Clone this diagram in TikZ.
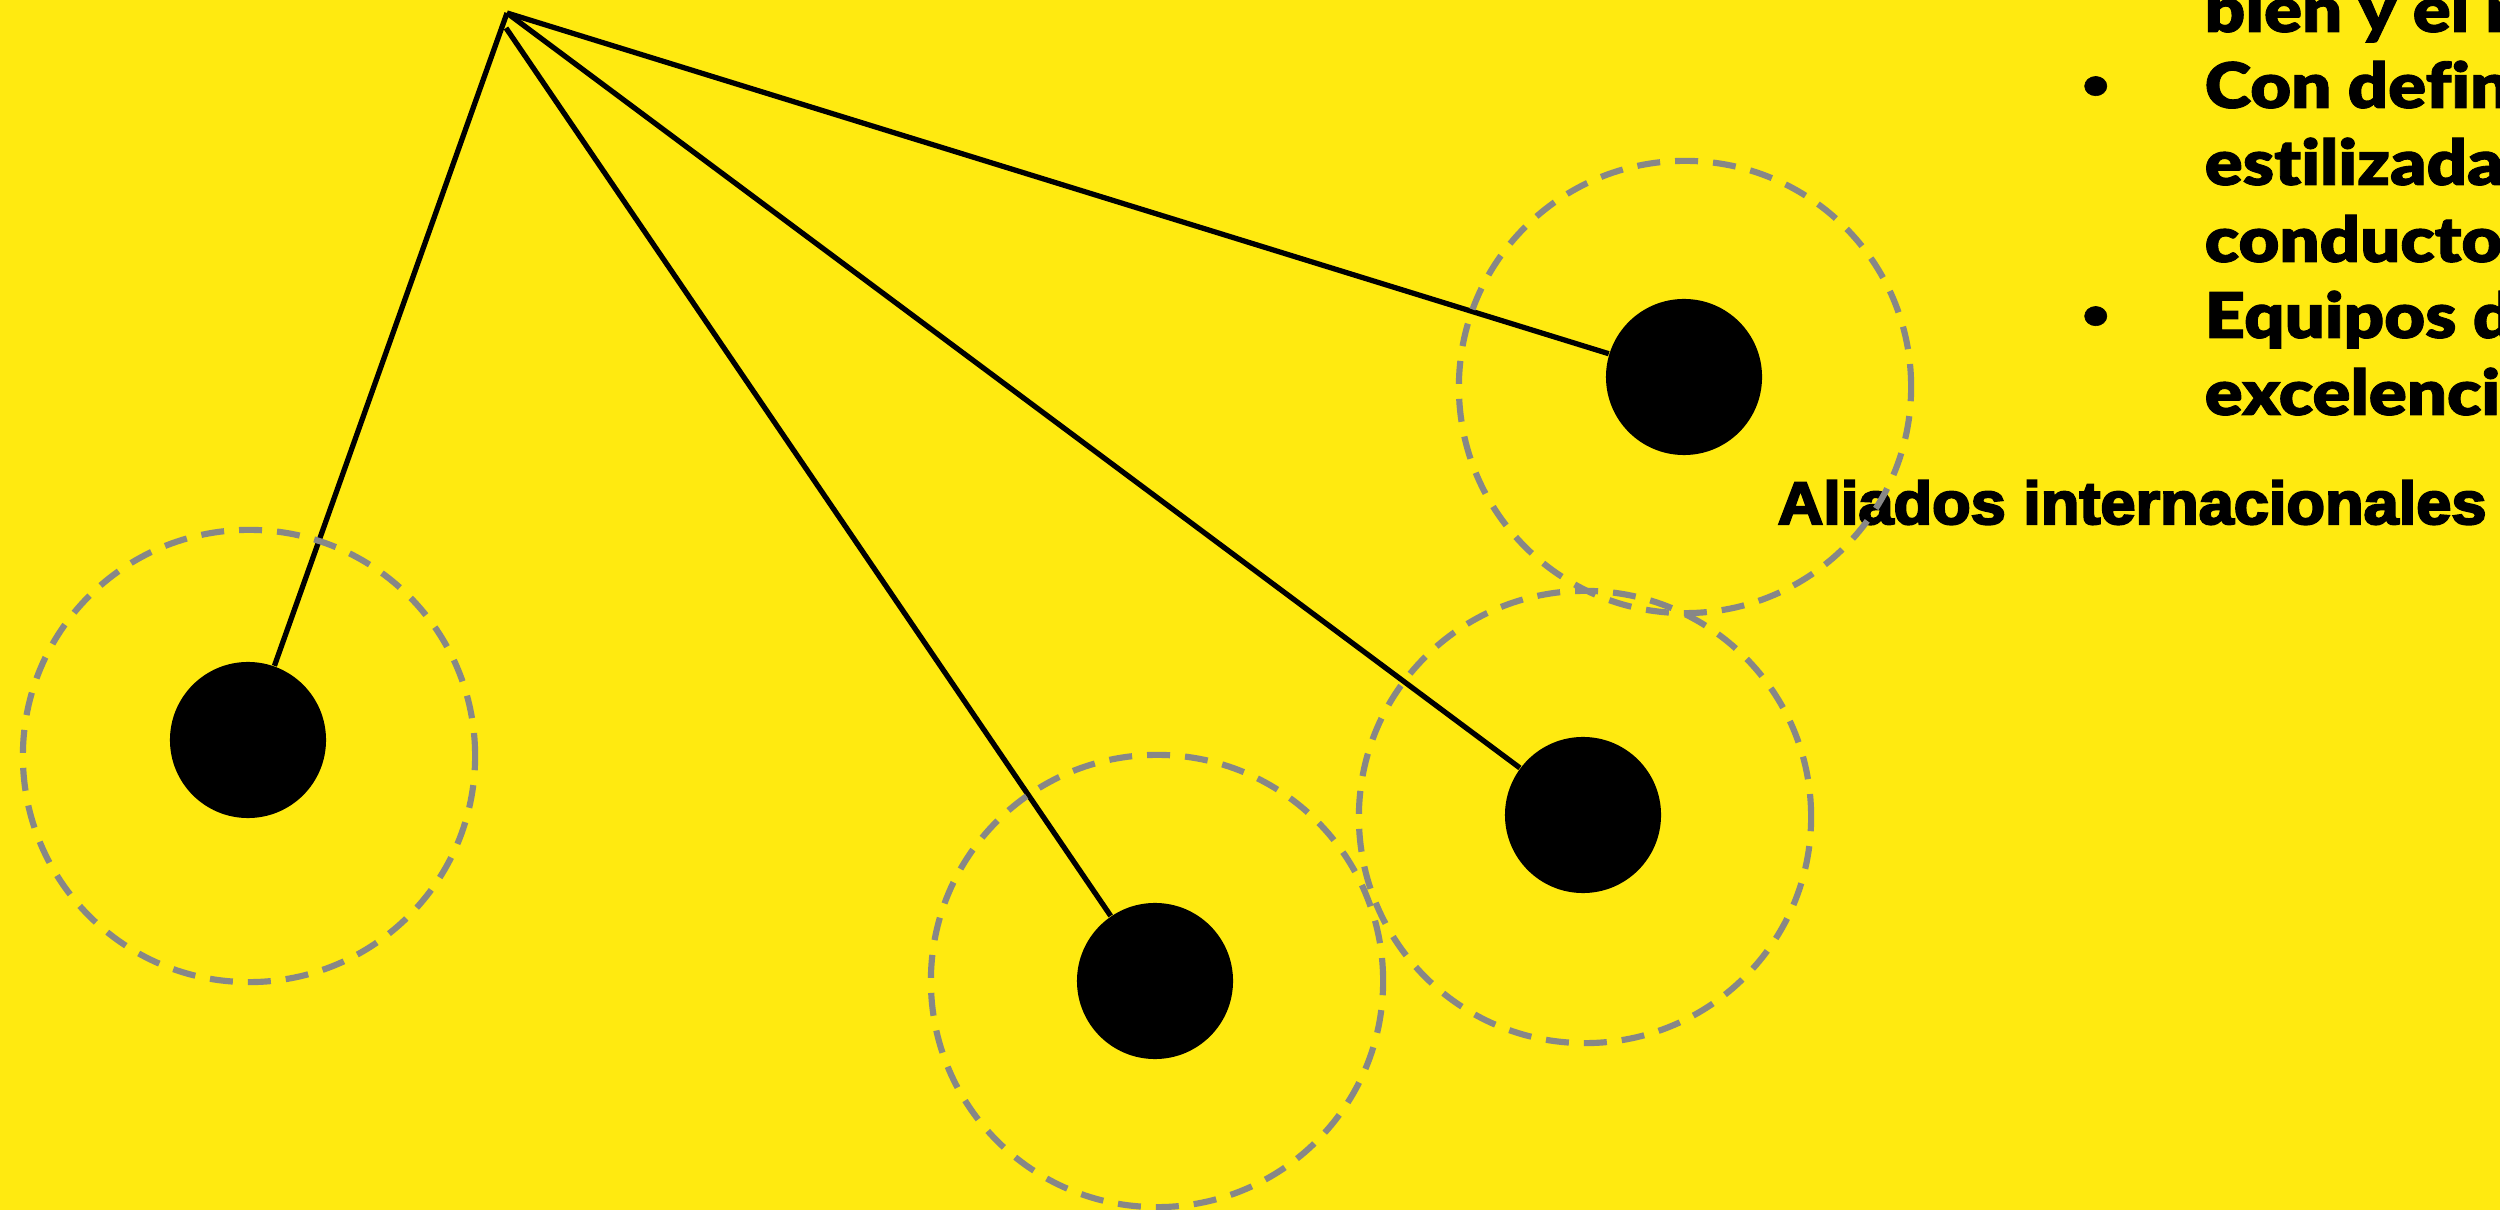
\documentclass[tikz,border=0pt]{standalone}
\usepackage{fontspec}
\newfontfamily\listfont{Lato Black}[FakeStretch=1.12,FakeBold=1.4,Ligatures=NoCommon]
\newfontfamily\titlefont{Liberation Sans}[BoldFeatures={FakeBold=3.5}]
\definecolor{bgyellow}{RGB}{255,234,16}
\definecolor{ringgray}{RGB}{135,135,135}

\begin{document}
\begin{tikzpicture}[x=0.01cm,y=-0.01cm,
		dot/.style={circle,fill=black,inner sep=0pt,minimum size=1.56cm},
		ring/.style={circle,draw=ringgray,line width=1.75pt,dash pattern=on 0.23cm off 0.15cm,inner sep=0pt,minimum size=4.52cm},
		conn/.style={line width=1.5pt},
		listline/.style={anchor=base west,inner sep=0pt,font=\listfont\fontsize{17.9}{21}\selectfont},
		bullet/.style={anchor=base west,inner sep=0pt,font=\listfont\fontsize{11.4}{13}\selectfont}]
	\fill[bgyellow] (0,0) rectangle (2500,1210);
	\useasboundingbox (0,0) rectangle (2500,1210);
	\begin{scope}
		\clip (0,0) rectangle (2500,1210);
		\node[listline] (l1) at (2204,32) {bien y el m};
		\node[bullet] (b1) at (2082,98) {•};
		\node[listline] (l2) at (2204,108) {Con defin};
		\node[listline] (l3) at (2204,185) {estilizada};
		\node[listline] (l4) at (2204,262) {conducto};
		\node[bullet] (b2) at (2082,328) {•};
		\node[listline] (l5) at (2204,338) {Equipos d};
		\node[listline] (l6) at (2204,415) {excelenci};
	\end{scope}
	\node[anchor=base west,inner sep=0pt] (title) at (1777,524)
		{\scalebox{1.05}[1]{\titlefont\bfseries\fontsize{17.1}{20}\selectfont Aliados internacionales}};
	\coordinate (apex) at (507,13);
	\coordinate (apexb) at (506,28);
	\node[dot] (p1) at (248,740) {};
	\node[dot] (p2) at (1155,981) {};
	\node[dot] (p3) at (1583,815) {};
	\node[dot] (p4) at (1684,377) {};
		\draw[conn] (apex) -- (p1);
		\draw[conn] (apexb) -- (p2);
		\draw[conn] (apex) -- (p3);
		\draw[conn] (apex) -- (p4);
	\node[ring] (r1) at (249,756) {};
	\node[ring] (r2) at (1157,981) {};
	\node[ring] (r3) at (1585,817) {};
	\node[ring] (r4) at (1685,387) {};
\end{tikzpicture}
\end{document}
